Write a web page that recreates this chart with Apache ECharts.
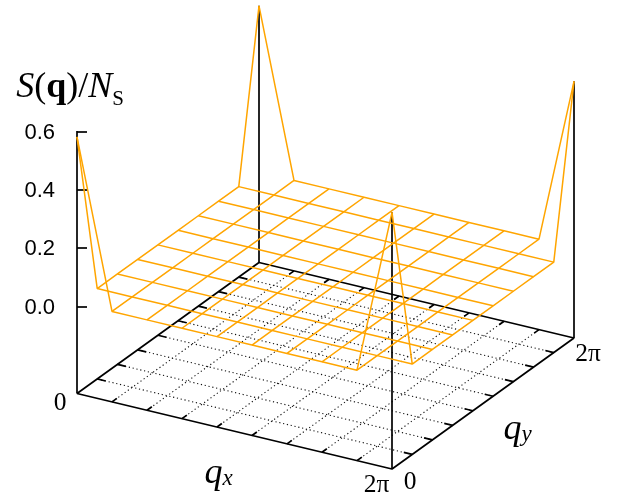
<!DOCTYPE html>
<html>
<head>
<meta charset="utf-8">
<style>html,body{margin:0;padding:0;background:#fff}#c{width:630px;height:504px}</style>
<script src="https://cdn.jsdelivr.net/npm/echarts@6/dist/echarts.min.js"></script>
</head>
<body>
<div id="c"></div>
<script>
var qSteps = [0, 1, 2, 3, 4, 5, 6, 7, 8, 9];
var qCells = 9;
var zTicks = [0.0, 0.2, 0.4, 0.6];
var zFloor = -0.3;
// S(q)/N_S on the 10x10 mesh; row = qy step, column = qx step
var S = [
  [0.58, 0.01, 0.01, 0.01, 0.01, 0.01, 0.01, 0.01, 0.01, 0.58],
  [0.01, 0.01, 0.01, 0.01, 0.01, 0.01, 0.01, 0.01, 0.01, 0.01],
  [0.01, 0.01, 0.01, 0.01, 0.01, 0.01, 0.01, 0.01, 0.01, 0.01],
  [0.01, 0.01, 0.01, 0.01, 0.01, 0.01, 0.01, 0.01, 0.01, 0.01],
  [0.01, 0.01, 0.01, 0.01, 0.01, 0.01, 0.01, 0.01, 0.01, 0.01],
  [0.01, 0.01, 0.01, 0.01, 0.01, 0.01, 0.01, 0.01, 0.01, 0.01],
  [0.01, 0.01, 0.01, 0.01, 0.01, 0.01, 0.01, 0.01, 0.01, 0.01],
  [0.01, 0.01, 0.01, 0.01, 0.01, 0.01, 0.01, 0.01, 0.01, 0.01],
  [0.01, 0.01, 0.01, 0.01, 0.01, 0.01, 0.01, 0.01, 0.01, 0.01],
  [0.58, 0.01, 0.01, 0.01, 0.01, 0.01, 0.01, 0.01, 0.01, 0.58]
];

// gnuplot-style oblique projection of (qx step, qy step, z) onto the page
var ORIGIN = [77, 393.5], UX = [315, 75.5], UY = [182, -131], ZS = 291.67;
function proj(i, j, z) {
  var u = i / qCells, v = j / qCells;
  return [ORIGIN[0] + UX[0] * u + UY[0] * v,
          ORIGIN[1] + UX[1] * u + UY[1] * v - (z - zFloor) * ZS];
}
var series = [];
function poly(points, style) {
  series.push({
    type: 'line', xAxisIndex: 0, yAxisIndex: 0, showSymbol: false, symbol: 'none',
    silent: true, animation: false, clip: false, data: points, lineStyle: style, z: style.zz || 2
  });
}
var dotted = {color: '#111', width: 1.1, type: [1.2, 2.7], zz: 1};
var solid = {color: '#000', width: 1.7, zz: 2};
var tick = {color: '#000', width: 1.7, zz: 2};
var mesh = {color: '#ffa500', width: 1.5, zz: 4};

// floor grid and ticks
qSteps.slice(1, -1).forEach(function (k) {
  poly([proj(k, 0, zFloor), proj(k, qCells, zFloor)], dotted);
  poly([proj(0, k, zFloor), proj(qCells, k, zFloor)], dotted);
  var t = 0.24;
  poly([proj(k, 0, zFloor), proj(k, t, zFloor)], tick);
  poly([proj(k, qCells, zFloor), proj(k, qCells - t, zFloor)], tick);
  poly([proj(0, k, zFloor), proj(t, k, zFloor)], tick);
  poly([proj(qCells, k, zFloor), proj(qCells - t, k, zFloor)], tick);
});
// floor border
poly([proj(0, 0, zFloor), proj(qCells, 0, zFloor), proj(qCells, qCells, zFloor),
      proj(0, qCells, zFloor), proj(0, 0, zFloor)], solid);
// verticals
poly([proj(0, 0, zFloor), proj(0, 0, zTicks[zTicks.length - 1])], solid);
poly([proj(qCells, 0, zFloor), proj(qCells, 0, S[0][qCells])], solid);
poly([proj(qCells, qCells, zFloor), proj(qCells, qCells, S[qCells][qCells])], solid);
poly([proj(0, qCells, zFloor), proj(0, qCells, S[qCells][0])], solid);
// surface mesh
qSteps.forEach(function (j) {
  poly(qSteps.map(function (i) { return proj(i, j, S[j][i]); }), mesh);
});
qSteps.forEach(function (i) {
  poly(qSteps.map(function (j) { return proj(i, j, S[j][i]); }), mesh);
});

var serif = '"Liberation Serif", serif';
function label(text, x, y, rich, size) {
  return {
    type: 'text', silent: true, z: 10, x: x, y: y,
    style: {text: text, rich: rich, fill: '#000', font: (size || 25.5) + 'px ' + serif,
            align: 'center', verticalAlign: 'middle'}
  };
}
var sym = {
  i: {fontFamily: serif, fontStyle: 'italic', fontSize: 36, lineHeight: 44, fill: '#000'},
  r: {fontFamily: serif, fontSize: 36, lineHeight: 44, fill: '#000'},
  b: {fontFamily: serif, fontWeight: 'bold', fontSize: 36, lineHeight: 44, fill: '#000'},
  s: {fontFamily: serif, fontSize: 21, lineHeight: 44, padding: [23, 0, 0, 0], fill: '#000'},
  si: {fontFamily: serif, fontStyle: 'italic', fontSize: 23, lineHeight: 44, padding: [10, 0, 0, 0], fill: '#000'}
};
var chart = echarts.init(document.getElementById('c'), null, {renderer: 'canvas'});
chart.setOption({
  animation: false,
  backgroundColor: '#fff',
  grid: [
    {left: 0, top: 0, width: 630, height: 504},
    {left: 77, top: 131.25, width: 1, height: 175}
  ],
  xAxis: [
    {type: 'value', gridIndex: 0, min: 0, max: 630, show: false},
    {type: 'value', gridIndex: 1, min: 0, max: 1, show: false}
  ],
  yAxis: [
    {type: 'value', gridIndex: 0, min: 0, max: 504, inverse: true, show: false},
    {type: 'value', gridIndex: 1, min: 0, max: 0.6, interval: 0.2,
     axisLine: {show: false},
     axisTick: {show: true, inside: true, length: 10, lineStyle: {color: '#000', width: 1.7}},
     splitLine: {show: false},
     axisLabel: {show: true, margin: 22, color: '#000',
                 rich: {a: {fontFamily: '"Liberation Sans", sans-serif', fontSize: 22, color: '#000', padding: [3, 0, 0, 0]}},
                 formatter: function (v) { return '{a|' + v.toFixed(1) + '}'; }}}
  ],
  series: series,
  graphic: [
    label('{i|S}{r|(}{b|q}{r|)/}{i|N}{s|S}', 70, 88, sym),
    label('0', 60, 403.5),
    label('2π', 376.5, 485),
    label('0', 410, 482),
    label('2π', 588, 354),
    label('{i|q}{si|x}', 218.5, 474, sym),
    label('{i|q}{si|y}', 517.5, 430, sym)
  ]
});
</script>
</body>
</html>
